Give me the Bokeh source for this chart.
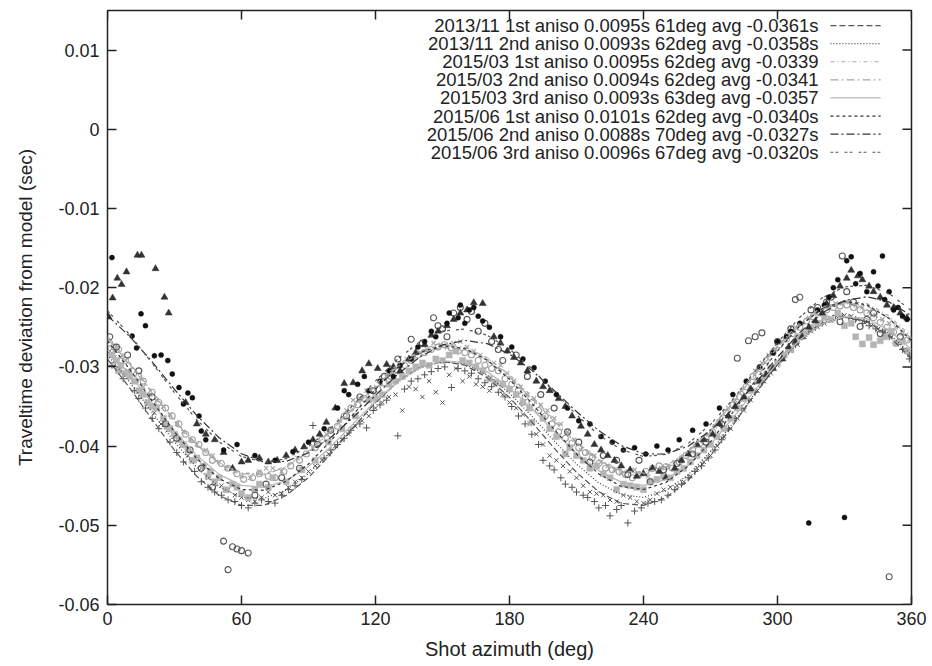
from bokeh.plotting import figure
from bokeh.models import FixedTicker, NumeralTickFormatter, Range1d
from bokeh.core.properties import value
from bokeh.embed import file_html
from bokeh.resources import INLINE

# ---------------- data ----------------
x_ticks = [0, 60, 120, 180, 240, 300, 360]
y_ticks = [-0.06, -0.05, -0.04, -0.03, -0.02, -0.01, 0.0, 0.01]

series_labels = [
    "2013/11 1st aniso 0.0095s 61deg avg -0.0361s",
    "2013/11 2nd aniso 0.0093s 62deg avg -0.0358s",
    "2015/03 1st aniso 0.0095s 62deg avg -0.0339",
    "2015/03 2nd aniso 0.0094s 62deg avg -0.0341",
    "2015/03 3rd aniso 0.0093s 63deg avg -0.0357",
    "2015/06 1st aniso 0.0101s 62deg avg -0.0340s",
    "2015/06 2nd aniso 0.0088s 70deg avg -0.0327s",
    "2015/06 3rd aniso 0.0096s 67deg avg -0.0320s",
]

# fitted curves, read every 10 degrees
fit_az = [0, 10, 20, 30, 40, 50, 60, 70, 80, 90, 100, 110, 120, 130, 140, 150, 160, 170, 180,
          190, 200, 210, 220, 230, 240, 250, 260, 270, 280, 290, 300, 310, 320, 330, 340, 350, 360]
fit_1311_1 = [-0.02901, -0.03268, -0.03666, -0.04052, -0.04384, -0.04624, -0.04749, -0.04748, -0.04623, -0.04397,
              -0.04098, -0.03768, -0.03450, -0.03183, -0.03003, -0.02931, -0.02977, -0.03136, -0.03385, -0.03696,
              -0.04026, -0.04332, -0.04576, -0.04722, -0.04749, -0.04650, -0.04431, -0.04117, -0.03738, -0.03340,
              -0.02966, -0.02657, -0.02451, -0.02371, -0.02425, -0.02610, -0.02901]
fit_1311_2 = [-0.02849, -0.03194, -0.03575, -0.03948, -0.04273, -0.04515, -0.04648, -0.04660, -0.04555, -0.04349,
              -0.04072, -0.03759, -0.03454, -0.03194, -0.03012, -0.02932, -0.02965, -0.03104, -0.03333, -0.03622,
              -0.03935, -0.04228, -0.04465, -0.04613, -0.04648, -0.04562, -0.04363, -0.04069, -0.03712, -0.03331,
              -0.02970, -0.02668, -0.02460, -0.02372, -0.02413, -0.02578, -0.02849]
fit_1503_1 = [-0.02617, -0.02946, -0.03310, -0.03666, -0.03977, -0.04209, -0.04338, -0.04352, -0.04255, -0.04061,
              -0.03800, -0.03504, -0.03216, -0.02970, -0.02798, -0.02722, -0.02753, -0.02884, -0.03101, -0.03374,
              -0.03670, -0.03946, -0.04169, -0.04307, -0.04338, -0.04254, -0.04063, -0.03781, -0.03440, -0.03076,
              -0.02732, -0.02444, -0.02246, -0.02162, -0.02201, -0.02358, -0.02617]
fit_1503_2 = [-0.02643, -0.02969, -0.03329, -0.03682, -0.03990, -0.04220, -0.04348, -0.04362, -0.04266, -0.04075,
              -0.03817, -0.03525, -0.03240, -0.02997, -0.02827, -0.02752, -0.02783, -0.02913, -0.03127, -0.03397,
              -0.03689, -0.03962, -0.04182, -0.04318, -0.04348, -0.04264, -0.04074, -0.03795, -0.03457, -0.03097,
              -0.02756, -0.02471, -0.02275, -0.02192, -0.02231, -0.02387, -0.02643]
fit_1503_3 = [-0.02781, -0.03099, -0.03455, -0.03809, -0.04120, -0.04357, -0.04495, -0.04521, -0.04437, -0.04257,
              -0.04007, -0.03719, -0.03433, -0.03187, -0.03010, -0.02925, -0.02944, -0.03062, -0.03265, -0.03527,
              -0.03815, -0.04089, -0.04312, -0.04455, -0.04495, -0.04423, -0.04245, -0.03977, -0.03647, -0.03291,
              -0.02949, -0.02661, -0.02458, -0.02365, -0.02392, -0.02536, -0.02781]
fit_1506_1 = [-0.02671, -0.03032, -0.03430, -0.03820, -0.04159, -0.04411, -0.04548, -0.04558, -0.04445, -0.04227,
              -0.03934, -0.03604, -0.03282, -0.03008, -0.02816, -0.02732, -0.02767, -0.02914, -0.03155, -0.03460,
              -0.03790, -0.04100, -0.04351, -0.04509, -0.04548, -0.04460, -0.04253, -0.03947, -0.03574, -0.03176,
              -0.02798, -0.02482, -0.02264, -0.02172, -0.02215, -0.02388, -0.02671]
fit_1506_2 = [-0.02354, -0.02616, -0.02937, -0.03283, -0.03614, -0.03895, -0.04097, -0.04199, -0.04193, -0.04084,
              -0.03890, -0.03637, -0.03359, -0.03093, -0.02872, -0.02723, -0.02666, -0.02706, -0.02838, -0.03044,
              -0.03297, -0.03563, -0.03806, -0.03993, -0.04097, -0.04101, -0.04001, -0.03804, -0.03530, -0.03209,
              -0.02875, -0.02567, -0.02320, -0.02163, -0.02114, -0.02180, -0.02354]
fit_1506_3 = [-0.02291, -0.02595, -0.02953, -0.03325, -0.03668, -0.03947, -0.04131, -0.04204, -0.04159, -0.04007,
              -0.03771, -0.03481, -0.03177, -0.02899, -0.02680, -0.02549, -0.02521, -0.02600, -0.02775, -0.03023,
              -0.03313, -0.03605, -0.03860, -0.04045, -0.04131, -0.04106, -0.03967, -0.03727, -0.03411, -0.03053,
              -0.02693, -0.02373, -0.02128, -0.01989, -0.01969, -0.02074, -0.02291]

# measured points (first and second batch per survey)
az_1311_1 = [2, 7, 12, 17, 23, 28, 34, 39, 45, 51, 57, 63, 69, 75, 81, 87, 92, 97, 103, 109,
             116, 122, 130, 136, 142, 148, 154, 160, 166, 172, 178, 184, 190, 195, 200, 205, 210, 215, 220, 225,
             230, 233, 236, 242, 248, 254, 260, 266, 272, 278, 284, 290, 296, 302, 308, 314, 320, 326, 332, 338,
             344, 350, 356]
dt_1311_1 = [-0.0298, -0.0315, -0.0330, -0.0352, -0.0378, -0.0395, -0.0420, -0.0432, -0.0452, -0.0462,
             -0.0470, -0.0478, -0.0468, -0.0472, -0.0455, -0.0442, -0.0374, -0.0415, -0.0398, -0.0380,
             -0.0377, -0.0348, -0.0387, -0.0318, -0.0310, -0.0302, -0.0326, -0.0305, -0.0315, -0.0325,
             -0.0338, -0.0362, -0.0385, -0.0418, -0.0430, -0.0448, -0.0458, -0.0465, -0.0478, -0.0488,
             -0.0475, -0.0497, -0.0482, -0.0472, -0.0468, -0.0455, -0.0440, -0.0425, -0.0405, -0.0378,
             -0.0352, -0.0332, -0.0308, -0.0290, -0.0272, -0.0255, -0.0245, -0.0235, -0.0238, -0.0245,
             -0.0252, -0.0262, -0.0278]
az_1311_1b = [5, 14, 20, 31, 42, 48, 54, 60, 66, 72, 78, 84, 100, 106, 113, 119, 125, 133, 139, 145,
              151, 157, 163, 169, 175, 181, 187, 193, 198, 203, 208, 213, 218, 223, 228, 239, 245, 251, 257, 263,
              269, 275, 281, 287, 293, 299, 305, 311, 317, 323, 329, 335, 341, 347, 353, 359]
dt_1311_1b = [-0.0305, -0.0340, -0.0365, -0.0408, -0.0445, -0.0458, -0.0468, -0.0475, -0.0472, -0.0470,
              -0.0462, -0.0450, -0.0405, -0.0390, -0.0372, -0.0355, -0.0342, -0.0328, -0.0315, -0.0306,
              -0.0300, -0.0302, -0.0308, -0.0320, -0.0332, -0.0350, -0.0372, -0.0398, -0.0425, -0.0440,
              -0.0452, -0.0462, -0.0470, -0.0475, -0.0480, -0.0478, -0.0470, -0.0462, -0.0448, -0.0432,
              -0.0415, -0.0392, -0.0365, -0.0342, -0.0320, -0.0298, -0.0280, -0.0262, -0.0250, -0.0240,
              -0.0236, -0.0240, -0.0248, -0.0256, -0.0270, -0.0290]

az_1311_2 = [1, 6, 12, 18, 24, 30, 36, 42, 48, 54, 60, 66, 72, 78, 84, 90, 96, 102, 108, 114,
             120, 126, 132, 138, 144, 150, 156, 162, 168, 174, 180, 186, 192, 198, 204, 210, 216, 222, 228, 234,
             240, 246, 252, 258, 264, 270, 276, 282, 288, 294, 300, 306, 312, 318, 324, 330, 336, 342, 348, 354, 359]
dt_1311_2 = [-0.0280, -0.0298, -0.0318, -0.0345, -0.0372, -0.0388, -0.0412, -0.0428, -0.0448, -0.0455,
             -0.0465, -0.0470, -0.0458, -0.0460, -0.0445, -0.0432, -0.0418, -0.0400, -0.0385, -0.0368,
             -0.0352, -0.0338, -0.0355, -0.0328, -0.0318, -0.0345, -0.0302, -0.0312, -0.0325, -0.0318,
             -0.0345, -0.0360, -0.0385, -0.0412, -0.0425, -0.0440, -0.0458, -0.0462, -0.0470, -0.0465,
             -0.0472, -0.0460, -0.0452, -0.0445, -0.0428, -0.0412, -0.0388, -0.0365, -0.0342, -0.0318,
             -0.0298, -0.0280, -0.0262, -0.0250, -0.0240, -0.0235, -0.0240, -0.0248, -0.0255, -0.0270, -0.0285]
az_1311_2b = [3, 9, 15, 21, 27, 33, 39, 45, 51, 57, 63, 69, 75, 81, 87, 93, 99, 105, 111, 117,
              123, 129, 135, 141, 147, 153, 159, 165, 171, 177, 183, 189, 195, 201, 207, 213, 219, 225, 231, 237,
              243, 249, 255, 261, 267, 273, 279, 285, 291, 297, 303, 309, 315, 321, 327, 333, 339, 345, 351, 357]
dt_1311_2b = [-0.0288, -0.0305, -0.0330, -0.0358, -0.0380, -0.0400, -0.0418, -0.0440, -0.0450, -0.0462,
              -0.0468, -0.0465, -0.0462, -0.0452, -0.0440, -0.0425, -0.0410, -0.0392, -0.0375, -0.0362,
              -0.0345, -0.0335, -0.0325, -0.0338, -0.0332, -0.0310, -0.0318, -0.0322, -0.0330, -0.0335,
              -0.0352, -0.0372, -0.0398, -0.0418, -0.0432, -0.0450, -0.0460, -0.0468, -0.0462, -0.0470,
              -0.0468, -0.0455, -0.0450, -0.0438, -0.0420, -0.0400, -0.0378, -0.0355, -0.0330, -0.0308,
              -0.0290, -0.0272, -0.0255, -0.0245, -0.0238, -0.0236, -0.0244, -0.0252, -0.0262, -0.0278]

az_1503_1 = [3, 8, 13, 19, 25, 31, 37, 44, 50, 57, 64, 71, 78, 85, 92, 98, 104, 110, 116, 122,
             128, 134, 140, 146, 152, 158, 164, 170, 176, 182, 188, 194, 200, 206, 212, 218, 224, 230, 236, 242,
             248, 254, 260, 266, 272, 278, 284, 290, 296, 302, 308, 314, 320, 326, 332, 338, 344, 350, 356]
dt_1503_1 = [-0.0280, -0.0292, -0.0318, -0.0335, -0.0350, -0.0372, -0.0392, -0.0405, -0.0420, -0.0432,
             -0.0440, -0.0428, -0.0432, -0.0415, -0.0402, -0.0385, -0.0368, -0.0342, -0.0330, -0.0322,
             -0.0305, -0.0290, -0.0282, -0.0270, -0.0275, -0.0268, -0.0280, -0.0292, -0.0298, -0.0318,
             -0.0335, -0.0348, -0.0365, -0.0382, -0.0405, -0.0412, -0.0425, -0.0435, -0.0430, -0.0438,
             -0.0428, -0.0420, -0.0410, -0.0392, -0.0375, -0.0352, -0.0330, -0.0305, -0.0285, -0.0268,
             -0.0250, -0.0238, -0.0228, -0.0220, -0.0218, -0.0225, -0.0235, -0.0245, -0.0258]
az_1503_1b = [6, 10, 16, 22, 28, 34, 40, 47, 53, 60, 68, 74, 100, 107, 113, 125, 131, 137, 143, 149,
              155, 161, 167, 173, 179, 185, 191, 197, 203, 209, 215, 221, 227, 233, 239, 245, 251, 257, 263, 269,
              275, 281, 287, 293, 299, 305, 311, 317, 323, 329, 335, 341, 347, 353, 359]
dt_1503_1b = [-0.0288, -0.0305, -0.0325, -0.0342, -0.0360, -0.0382, -0.0398, -0.0412, -0.0428, -0.0438,
              -0.0432, -0.0428, -0.0378, -0.0355, -0.0340, -0.0312, -0.0298, -0.0288, -0.0278, -0.0272,
              -0.0270, -0.0275, -0.0285, -0.0295, -0.0308, -0.0325, -0.0340, -0.0355, -0.0372, -0.0392,
              -0.0408, -0.0420, -0.0430, -0.0432, -0.0435, -0.0430, -0.0425, -0.0415, -0.0400, -0.0385,
              -0.0362, -0.0342, -0.0318, -0.0295, -0.0278, -0.0258, -0.0245, -0.0232, -0.0225, -0.0220,
              -0.0222, -0.0230, -0.0240, -0.0250, -0.0265]

az_1503_2 = [1, 5, 11, 16, 23, 29, 35, 41, 47, 54, 61, 68, 75, 82, 89, 96, 103, 109, 115, 121,
             127, 133, 139, 145, 151, 157, 163, 169, 175, 181, 187, 193, 199, 205, 211, 217, 223, 229, 235, 241,
             247, 253, 259, 265, 271, 277, 283, 289, 295, 301, 307, 313, 319, 325, 331, 337, 343, 349, 355]
dt_1503_2 = [-0.0270, -0.0278, -0.0305, -0.0318, -0.0345, -0.0362, -0.0385, -0.0398, -0.0418, -0.0428,
             -0.0442, -0.0435, -0.0440, -0.0425, -0.0410, -0.0392, -0.0375, -0.0352, -0.0340, -0.0328,
             -0.0312, -0.0298, -0.0285, -0.0278, -0.0272, -0.0280, -0.0285, -0.0298, -0.0305, -0.0322,
             -0.0338, -0.0355, -0.0372, -0.0390, -0.0402, -0.0415, -0.0428, -0.0432, -0.0440, -0.0432,
             -0.0425, -0.0428, -0.0412, -0.0398, -0.0382, -0.0358, -0.0338, -0.0312, -0.0292, -0.0272,
             -0.0258, -0.0242, -0.0232, -0.0225, -0.0222, -0.0228, -0.0238, -0.0250, -0.0262]
az_1503_2b = [3, 8, 14, 20, 26, 32, 38, 44, 51, 58, 65, 72, 79, 86, 93, 100, 106, 112, 118, 124,
              130, 136, 142, 148, 154, 160, 166, 172, 178, 184, 190, 196, 202, 208, 214, 220, 226, 232, 238, 244,
              250, 256, 262, 268, 274, 280, 286, 292, 298, 304, 310, 316, 322, 328, 334, 340, 346, 352, 358]
dt_1503_2b = [-0.0275, -0.0292, -0.0312, -0.0332, -0.0352, -0.0372, -0.0392, -0.0408, -0.0422, -0.0435,
              -0.0440, -0.0438, -0.0432, -0.0418, -0.0402, -0.0385, -0.0362, -0.0348, -0.0335, -0.0320,
              -0.0305, -0.0292, -0.0282, -0.0275, -0.0276, -0.0282, -0.0292, -0.0302, -0.0315, -0.0330,
              -0.0345, -0.0362, -0.0382, -0.0396, -0.0408, -0.0422, -0.0430, -0.0436, -0.0436, -0.0428,
              -0.0426, -0.0420, -0.0405, -0.0390, -0.0370, -0.0348, -0.0325, -0.0302, -0.0282, -0.0265,
              -0.0250, -0.0237, -0.0228, -0.0223, -0.0225, -0.0232, -0.0244, -0.0256, -0.0266]

az_1503_3 = [2, 6, 10, 14, 18, 22, 26, 30, 34, 38, 43, 48, 53, 58, 63, 68, 74, 80, 87, 93,
             99, 105, 111, 117, 123, 129, 135, 141, 147, 153, 159, 165, 171, 177, 183, 189, 195, 201, 207, 213,
             219, 225, 231, 237, 243, 249, 255, 261, 267, 273, 279, 285, 291, 297, 303, 309, 315, 321, 327, 333,
             338, 341, 346, 351, 356,
             156, 162, 168, 144, 190, 205, 228, 246, 264, 335, 343, 348, 5, 25, 45, 60]
dt_1503_3 = [-0.0285, -0.0298, -0.0312, -0.0330, -0.0345, -0.0352, -0.0372, -0.0385, -0.0398, -0.0418,
             -0.0425, -0.0445, -0.0455, -0.0452, -0.0465, -0.0448, -0.0440, -0.0445, -0.0430, -0.0418,
             -0.0395, -0.0378, -0.0362, -0.0342, -0.0335, -0.0318, -0.0305, -0.0295, -0.0290, -0.0285,
             -0.0292, -0.0300, -0.0315, -0.0322, -0.0335, -0.0352, -0.0365, -0.0388, -0.0402, -0.0418,
             -0.0425, -0.0440, -0.0448, -0.0452, -0.0445, -0.0438, -0.0432, -0.0420, -0.0405, -0.0388,
             -0.0365, -0.0340, -0.0318, -0.0302, -0.0285, -0.0262, -0.0250, -0.0238, -0.0232, -0.0245,
             -0.0271, -0.0263, -0.0267, -0.0255, -0.0268,
             -0.0280, -0.0295, -0.0305, -0.0298, -0.0370, -0.0410, -0.0455, -0.0442, -0.0412, -0.0262,
             -0.0272, -0.0262, -0.0305, -0.0365, -0.0438, -0.0460]
az_1503_3b = [4, 8, 12, 16, 20, 28, 32, 36, 40, 46, 50, 56, 66, 72, 120, 126, 132, 138, 150, 174,
              180, 186, 198, 210, 216, 222, 234, 240, 252, 258, 270, 276, 282, 288, 294, 300, 306, 312, 318, 324,
              330, 353, 358]
dt_1503_3b = [-0.0292, -0.0308, -0.0318, -0.0335, -0.0350, -0.0378, -0.0392, -0.0405, -0.0415, -0.0432,
              -0.0440, -0.0448, -0.0455, -0.0452, -0.0340, -0.0322, -0.0312, -0.0300, -0.0292, -0.0320,
              -0.0328, -0.0345, -0.0378, -0.0412, -0.0428, -0.0435, -0.0450, -0.0455, -0.0440, -0.0428,
              -0.0398, -0.0378, -0.0352, -0.0330, -0.0312, -0.0295, -0.0278, -0.0258, -0.0245, -0.0240,
              -0.0248, -0.0270, -0.0280]

az_1506_1 = [1, 4, 9, 14, 20, 26, 31, 37, 42, 47, 52, 54, 56, 58, 60, 63, 66, 71, 78, 86,
             94, 100, 107, 113, 119, 124, 130, 136, 141, 146, 150, 155, 161, 166, 172, 177, 183, 188, 194, 200,
             206, 211, 216, 222, 228, 233, 238, 243, 249, 255, 262, 268, 275, 282, 287, 290, 293, 300, 306, 308,
             310, 318, 324, 328, 329, 334, 337, 340, 346, 350, 355,
             148, 152, 158, 163, 169, 175, 315, 322, 331, 343]
dt_1506_1 = [-0.0262, -0.0275, -0.0285, -0.0305, -0.0338, -0.0372, -0.0390, -0.0405, -0.0428, -0.0452,
             -0.0520, -0.0556, -0.0527, -0.0530, -0.0532, -0.0535, -0.0462, -0.0448, -0.0440, -0.0428,
             -0.0398, -0.0380, -0.0362, -0.0338, -0.0330, -0.0312, -0.0290, -0.0265, -0.0270, -0.0238,
             -0.0252, -0.0232, -0.0240, -0.0255, -0.0268, -0.0292, -0.0285, -0.0312, -0.0335, -0.0352,
             -0.0382, -0.0395, -0.0420, -0.0412, -0.0418, -0.0436, -0.0418, -0.0445, -0.0430, -0.0422,
             -0.0410, -0.0395, -0.0372, -0.0289, -0.0267, -0.0262, -0.0257, -0.0268, -0.0252, -0.0215,
             -0.0212, -0.0225, -0.0212, -0.0243, -0.0160, -0.0218, -0.0249, -0.0240, -0.0258, -0.0565,
             -0.0262,
             -0.0248, -0.0262, -0.0225, -0.0230, -0.0245, -0.0278, -0.0228, -0.0218, -0.0205, -0.0232]

az_1506_2 = [0.5, 2.3, 4.4, 6.3, 8.5, 13.4, 15.2, 21.5, 25.5, 27.4, 35, 48, 56, 63, 72, 80, 88, 95, 102, 106,
             110, 117, 125, 131, 138, 145, 152, 158, 164, 168, 173, 179, 185, 192, 198, 205, 212, 218, 224, 230,
             237, 244, 250, 257, 264, 271, 278, 285, 292, 298, 305, 311, 317, 322, 328, 333, 338, 343, 349, 355]
dt_1506_2 = [-0.0237, -0.0213, -0.0188, -0.0196, -0.0180, -0.0159, -0.0159, -0.0176, -0.0212, -0.0232,
             -0.0345, -0.0392, -0.0428, -0.0418, -0.0420, -0.0412, -0.0401, -0.0385, -0.0352, -0.0321,
             -0.0320, -0.0296, -0.0297, -0.0305, -0.0282, -0.0260, -0.0248, -0.0232, -0.0219, -0.0220,
             -0.0262, -0.0280, -0.0295, -0.0318, -0.0330, -0.0350, -0.0375, -0.0398, -0.0412, -0.0425,
             -0.0438, -0.0428, -0.0440, -0.0418, -0.0398, -0.0385, -0.0362, -0.0338, -0.0318, -0.0302,
             -0.0275, -0.0262, -0.0242, -0.0220, -0.0198, -0.0178, -0.0190, -0.0205, -0.0222, -0.0232]
az_1506_2b = [40, 44, 52, 60, 68, 76, 84, 92, 98, 114, 121, 128, 135, 142, 148, 155, 161, 176, 182, 188,
              195, 202, 208, 215, 221, 227, 234, 240, 247, 254, 260, 267, 274, 281, 288, 295, 302, 308, 314, 320,
              325, 331, 336, 341, 346, 352, 358]
dt_1506_2b = [-0.0372, -0.0385, -0.0408, -0.0420, -0.0415, -0.0418, -0.0405, -0.0392, -0.0370, -0.0305,
              -0.0302, -0.0300, -0.0290, -0.0272, -0.0255, -0.0240, -0.0228, -0.0270, -0.0288, -0.0305,
              -0.0325, -0.0340, -0.0362, -0.0385, -0.0405, -0.0418, -0.0430, -0.0435, -0.0432, -0.0428,
              -0.0410, -0.0392, -0.0372, -0.0350, -0.0328, -0.0310, -0.0290, -0.0268, -0.0250, -0.0232,
              -0.0210, -0.0188, -0.0185, -0.0198, -0.0212, -0.0225, -0.0238]

az_1506_3 = [2, 11, 13, 15, 17, 21, 24, 27, 29, 32, 34, 36, 38, 41, 42, 44, 52, 58, 66, 75,
             83, 90, 97, 103, 108, 112, 117, 122, 126, 131, 136, 142, 147, 152, 157, 162, 166, 171, 176, 181,
             186, 191, 196, 201, 206, 211, 216, 221, 226, 231, 236, 241, 246, 251, 256, 262, 268, 274, 280, 286,
             292, 298, 304, 310, 314, 318, 323, 327, 330, 331, 333, 335, 340, 343, 347, 348, 352, 356,
             153, 158, 160, 164, 168, 145, 139, 128, 115, 106, 300, 306, 321, 325, 337, 345, 350, 354, 358]
dt_1506_3 = [-0.0162, -0.0261, -0.0276, -0.0233, -0.0248, -0.0286, -0.0285, -0.0292, -0.0309, -0.0326,
             -0.0347, -0.0333, -0.0339, -0.0362, -0.0381, -0.0392, -0.0405, -0.0398, -0.0412, -0.0418,
             -0.0407, -0.0395, -0.0378, -0.0352, -0.0335, -0.0322, -0.0330, -0.0318, -0.0305, -0.0298,
             -0.0290, -0.0268, -0.0262, -0.0245, -0.0238, -0.0228, -0.0236, -0.0250, -0.0262, -0.0275,
             -0.0290, -0.0301, -0.0318, -0.0335, -0.0352, -0.0368, -0.0372, -0.0388, -0.0395, -0.0405,
             -0.0402, -0.0410, -0.0400, -0.0405, -0.0392, -0.0380, -0.0372, -0.0352, -0.0335, -0.0318,
             -0.0300, -0.0282, -0.0262, -0.0245, -0.0497, -0.0228, -0.0212, -0.0190, -0.0490, -0.0166,
             -0.0161, -0.0195, -0.0205, -0.0180, -0.0160, -0.0215, -0.0228, -0.0236,
             -0.0232, -0.0222, -0.0245, -0.0225, -0.0242, -0.0255, -0.0275, -0.0312, -0.0312, -0.0330,
             -0.0268, -0.0255, -0.0222, -0.0200, -0.0182, -0.0198, -0.0205, -0.0225, -0.0240]

points = [(az_1311_1 + az_1311_1b, dt_1311_1 + dt_1311_1b),
          (az_1311_2 + az_1311_2b, dt_1311_2 + dt_1311_2b),
          (az_1503_1 + az_1503_1b, dt_1503_1 + dt_1503_1b),
          (az_1503_2 + az_1503_2b, dt_1503_2 + dt_1503_2b),
          (az_1503_3 + az_1503_3b, dt_1503_3 + dt_1503_3b),
          (az_1506_1, dt_1506_1),
          (az_1506_2 + az_1506_2b, dt_1506_2 + dt_1506_2b),
          (az_1506_3, dt_1506_3)]
fits = [fit_1311_1, fit_1311_2, fit_1503_1, fit_1503_2, fit_1503_3, fit_1506_1, fit_1506_2, fit_1506_3]

# ---------------- styles ----------------
FONT = "Liberation Sans"
TXT = "#222222"
marker_styles = [
    dict(marker="cross", size=7, line_color="#555555", fill_color=None, line_width=1),
    dict(marker="x", size=6, line_color="#555555", fill_color=None, line_width=1),
    dict(marker="x", size=6, line_color="#a8a8a8", fill_color=None, line_width=1.2),
    dict(marker="circle", size=6, line_color="#a0a0a0", fill_color=None, line_width=1.1),
    dict(marker="square", size=6, line_color="#b4b4b4", fill_color="#b4b4b4", line_width=0.5),
    dict(marker="circle", size=6, line_color="#555555", fill_color=None, line_width=1.1),
    dict(marker="triangle", size=7, line_color="#333333", fill_color="#333333", line_width=0.5),
    dict(marker="circle", size=5, line_color="#111111", fill_color="#111111", line_width=0.5),
]
line_styles = [
    dict(line_color="#555555", line_dash="6 3", line_width=1.2),
    dict(line_color="#444444", line_dash="1 2", line_width=1.2),
    dict(line_color="#a8a8a8", line_dash="4 3 1 3", line_width=1.2),
    dict(line_color="#a8a8a8", line_dash="8 3 2 3", line_width=1.2),
    dict(line_color="#b8b8b8", line_dash="solid", line_width=1.3),
    dict(line_color="#333333", line_dash="3 3", line_width=1.2),
    dict(line_color="#333333", line_dash="8 3 2 3", line_width=1.2),
    dict(line_color="#555555", line_dash="3 2 3 6", line_width=1.2),
]

X_MIN, X_MAX = 0, 360
Y_MIN, Y_MAX = -0.06, 0.015
p = figure(width=930, height=664, x_range=Range1d(X_MIN, X_MAX), y_range=Range1d(Y_MIN, Y_MAX),
           output_backend="svg", toolbar_location=None,
           min_border_left=107, min_border_right=19, min_border_top=10, min_border_bottom=60)
p.background_fill_color = "white"
p.border_fill_color = "white"
p.outline_line_color = "#222222"
p.outline_line_width = 1.5
p.grid.visible = False

for (az, dt), ms in zip(points, marker_styles):
    p.scatter(az, dt, **ms)

for fv, ls in zip(fits, line_styles):
    p.line(fit_az, fv, **ls)

# mirrored inward ticks on top and right edges (gnuplot border style)
TICK_DX = 4.03      # 9 px in azimuth units
TICK_DY = 0.001136  # 9 px in seconds
p.segment(x0=x_ticks, y0=[Y_MAX] * len(x_ticks), x1=x_ticks, y1=[Y_MAX - TICK_DY] * len(x_ticks),
          line_color="#222222", line_width=1.5)
p.segment(x0=[X_MAX] * len(y_ticks), y0=y_ticks, x1=[X_MAX - TICK_DX] * len(y_ticks), y1=y_ticks,
          line_color="#222222", line_width=1.5)

# key (text right aligned, line sample on the right), as in gnuplot
LEG_TEXT_X = 318.4
LEG_LINE_X0 = 323.7
LEG_LINE_X1 = 346.2
LEG_Y0 = 0.0131
LEG_DY = 0.002285
leg_y = [LEG_Y0 - i * LEG_DY for i in range(len(series_labels))]
p.text(x=[LEG_TEXT_X] * len(series_labels), y=leg_y, text=series_labels,
       text_align="right", text_baseline="middle", text_font=value(FONT),
       text_font_size=value("18.5px"), text_color=TXT)
for yy, ls in zip(leg_y, line_styles):
    p.line([LEG_LINE_X0, LEG_LINE_X1], [yy, yy], **ls)

p.xaxis.ticker = FixedTicker(ticks=x_ticks)
p.yaxis.ticker = FixedTicker(ticks=y_ticks)
p.yaxis.formatter = NumeralTickFormatter(format="0.[00]")
for ax in p.xaxis + p.yaxis:
    ax.axis_line_color = None
    ax.major_tick_in = 9
    ax.major_tick_out = 0
    ax.minor_tick_line_color = None
    ax.major_tick_line_color = "#222222"
    ax.major_tick_line_width = 1.5
    ax.major_label_text_font = FONT
    ax.major_label_text_color = TXT
    ax.major_label_text_font_size = "18px"
    ax.axis_label_text_font = FONT
    ax.axis_label_text_font_style = "normal"
    ax.axis_label_text_color = TXT
p.xaxis.major_label_standoff = 7
p.yaxis.major_label_standoff = 8
p.xaxis.axis_label = "Shot azimuth (deg)"
p.yaxis.axis_label = "Traveltime deviation from model (sec)"
p.xaxis.axis_label_text_font_size = "20px"
p.yaxis.axis_label_text_font_size = "19px"
p.xaxis.axis_label_standoff = 10
p.yaxis.axis_label_standoff = 19

open("out.html", "w").write(file_html(p, INLINE))
